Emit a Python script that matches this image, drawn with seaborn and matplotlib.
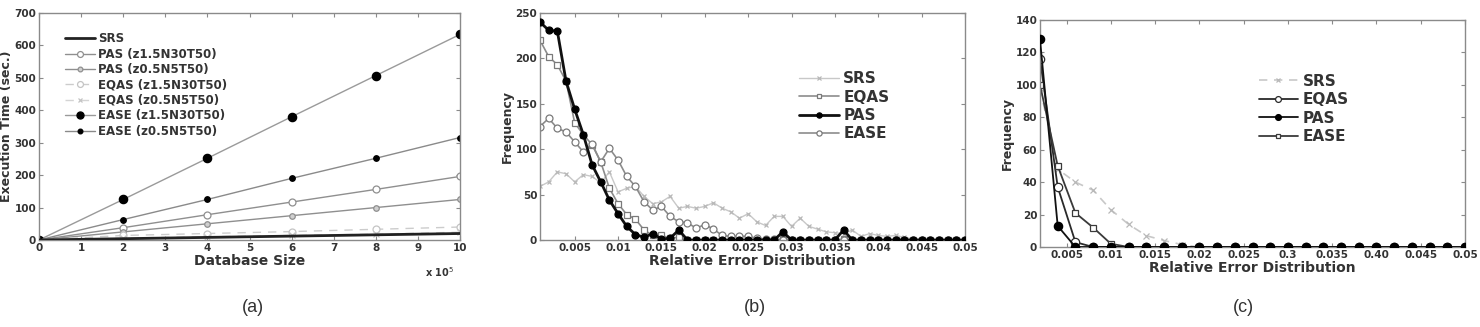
import numpy as np
import pandas as pd
import matplotlib
matplotlib.use("Agg")
import matplotlib.pyplot as plt
import seaborn as sns

# ---------------- data ----------------
# (a) execution time vs database size (x 10^5)
db_size = [0, 2, 4, 6, 8, 10]
srs_a = [0, 4, 8, 12, 16, 20]
pas_z15 = [0, 38, 78, 117, 156, 196]
pas_z05 = [0, 25, 50, 75, 100, 125]
eqas_z15 = [0, 14, 20, 26, 33, 40]
eqas_z05 = [0, 6, 10, 14, 18, 24]
ease_z15 = [0, 125, 252, 380, 507, 634]
ease_z05 = [0, 63, 125, 190, 252, 316]

# (b) relative error distribution, bins 0.001 .. 0.050
err_b = [round(0.001 * i, 3) for i in range(1, 51)]
srs_b = [59, 64, 75, 73, 64, 72, 70, 63, 75, 53,
         57, 59, 48, 40, 42, 48, 35, 37, 35, 37,
         41, 35, 31, 24, 29, 20, 16, 26, 26, 15,
         24, 15, 12, 9, 8, 7, 11, 4, 7, 5,
         4, 5, 3, 1, 1, 0, 0, 0, 0, 0]
eqas_b = [220, 202, 193, 175, 129, 116, 105, 86, 57, 40,
          28, 23, 11, 5, 5, 2, 3, 0, 0, 0,
          0, 0, 0, 0, 0, 0, 0, 0, 1, 0,
          0, 0, 0, 0, 0, 1, 0, 0, 0, 0,
          0, 0, 0, 0, 0, 0, 0, 0, 0, 0]
pas_b = [240, 231, 230, 175, 144, 116, 83, 64, 44, 29,
         15, 6, 3, 7, 1, 2, 11, 0, 0, 0,
         0, 0, 0, 0, 0, 0, 0, 0, 9, 0,
         0, 0, 0, 0, 0, 11, 0, 0, 0, 0,
         0, 0, 0, 0, 0, 0, 0, 0, 0, 0]
ease_b = [125, 134, 123, 119, 108, 97, 106, 86, 101, 88,
          70, 59, 42, 33, 37, 26, 20, 19, 13, 17,
          12, 5, 4, 4, 4, 2, 1, 1, 0, 0,
          0, 0, 0, 0, 0, 0, 0, 0, 0, 0,
          0, 0, 0, 0, 0, 0, 0, 0, 0, 0]

# (c) relative error distribution, bins 0.002 .. 0.050
err_c = [round(0.002 * i, 3) for i in range(1, 26)]
srs_c = [98, 48, 40, 35, 23, 14, 7, 4, 1.5] + [0] * 16
eqas_c = [116, 37, 3] + [0] * 22
pas_c = [128, 13] + [0] * 23
ease_c = [100, 50, 21, 12, 2] + [0] * 20

ticks_bc = [0.005, 0.01, 0.015, 0.02, 0.025, 0.03, 0.035, 0.04, 0.045, 0.05]
ticklabels_b = ["0.005", "0.01", "0.015", "0.02", "0.025", "0.03", "0.035", "0.04", "0.045", "0.05"]
ticklabels_c = ["0.005", "0.01", "0.015", "0.02", "0.025", "0.3", "0.035", "0.40", "0.045", "0.05"]

# ---------------- style ----------------
sns.set_style("ticks")
plt.rcParams['font.family'] = ['DejaVu Sans']
TXT = "#333333"
SPINE = "#8a8a8a"

fig = plt.figure(figsize=(14.8, 3.27), dpi=100)
W, H = 1480, 327


def add_ax(l, r, t, b):
    return fig.add_axes([l / W, 1 - b / H, (r - l) / W, (b - t) / H])


axA = add_ax(39, 460, 13, 240)
axB = add_ax(540, 965, 13, 240)
axC = add_ax(1040, 1465, 20, 247)


def style(ax):
    for s in ax.spines.values():
        s.set_visible(True)
        s.set_color(SPINE)
        s.set_linewidth(1.0)
    ax.tick_params(direction="in", top=True, right=True, length=3, width=0.8,
                   color=SPINE, labelsize=7.5, labelcolor=TXT, pad=2)
    for lab in ax.get_xticklabels() + ax.get_yticklabels():
        lab.set_fontweight("bold")


def line(ax, x, y, label, color, marker=None, ms=4, mfc=None, mec=None, lw=1.0, ls="-", zorder=2):
    kw = dict(x=x, y=y, ax=ax, color=color, linewidth=lw, linestyle=ls, label=label,
              estimator=None, sort=False, zorder=zorder)
    if marker:
        kw.update(marker=marker, markersize=ms,
                  markerfacecolor=(mfc if mfc is not None else color),
                  markeredgecolor=(mec if mec is not None else color),
                  markeredgewidth=0.9)
    sns.lineplot(**kw)


# ---------------- (a) ----------------
line(axA, db_size, srs_a, "SRS", "#222222", lw=2.0, zorder=5)
line(axA, db_size, pas_z15, "PAS (z1.5N30T50)", "#8f8f8f", "o", 5, "white", "#8f8f8f")
line(axA, db_size, pas_z05, "PAS (z0.5N5T50)", "#8f8f8f", "o", 4, "#cfcfcf", "#8f8f8f")
line(axA, db_size, eqas_z15, "EQAS (z1.5N30T50)", "#cccccc", "o", 5, "white", "#c4c4c4", ls=(0, (6, 5)))
line(axA, db_size, eqas_z05, "EQAS (z0.5N5T50)", "#d4d4d4", "x", 4, None, "#c4c4c4", ls=(0, (6, 5)))
line(axA, db_size, ease_z15, "EASE (z1.5N30T50)", "#9a9a9a", "o", 6, "black", "black")
line(axA, db_size, ease_z05, "EASE (z0.5N5T50)", "#8a8a8a", "o", 4, "black", "black")
axA.set_xlim(0, 10)
axA.set_ylim(0, 700)
axA.set_xticks(range(0, 11))
axA.set_yticks(range(0, 701, 100))
style(axA)
axA.set_xlabel("Database Size", fontsize=10, fontweight="bold", color=TXT, labelpad=1)
axA.set_ylabel("Execution Time (sec.)", fontsize=9, fontweight="bold", color=TXT, labelpad=1)
axA.text(0.985, -0.11, r"x 10$^5$", transform=axA.transAxes, ha="right", va="top",
         fontsize=7, fontweight="bold", color=TXT)
legA = axA.legend(loc="upper left", bbox_to_anchor=(0.05, 0.935), frameon=False,
                  prop={"weight": "bold", "size": 8.5}, handlelength=2.6, handletextpad=0.2,
                  labelspacing=0.2, borderaxespad=0, markerscale=0.85)
for t in legA.get_texts():
    t.set_color(TXT)

# ---------------- (b) ----------------
line(axB, err_b, srs_b, "SRS", "#c8c8c8", "x", 3.5, None, "#b8b8b8", lw=1.0)
line(axB, err_b, eqas_b, "EQAS", "#8c8c8c", "s", 4.5, "white", "#7a7a7a", lw=1.2)
line(axB, err_b, pas_b, "PAS", "#111111", "o", 5, "black", "black", lw=2.0, zorder=4)
line(axB, err_b, ease_b, "EASE", "#8c8c8c", "o", 5, "white", "#7a7a7a", lw=1.2)
axB.set_xlim(0.001, 0.05)
axB.set_ylim(0, 250)
axB.set_xticks(ticks_bc, labels=ticklabels_b)
axB.set_yticks(range(0, 251, 50))
style(axB)
axB.set_xlabel("Relative Error Distribution", fontsize=10, fontweight="bold", color=TXT, labelpad=1)
axB.set_ylabel("Frequency", fontsize=9, fontweight="bold", color=TXT, labelpad=1)
legB = axB.legend(loc="upper left", bbox_to_anchor=(0.595, 0.77), frameon=False,
                  prop={"weight": "bold", "size": 11}, handlelength=2.6, handletextpad=0.3,
                  labelspacing=0.22, borderaxespad=0, markerscale=0.75)
for t in legB.get_texts():
    t.set_color(TXT)

# ---------------- (c) ----------------
line(axC, err_c, srs_c, "SRS", "#c8c8c8", "x", 4, None, "#b8b8b8", lw=1.2, ls=(0, (5, 4)))
line(axC, err_c, eqas_c, "EQAS", "#2a2a2a", "o", 6, "white", "#2a2a2a", lw=1.3)
line(axC, err_c, pas_c, "PAS", "#111111", "o", 6, "black", "black", lw=1.3, zorder=4)
line(axC, err_c, ease_c, "EASE", "#3a3a3a", "s", 5, "white", "#3a3a3a", lw=1.3)
axC.set_xlim(0.002, 0.05)
axC.set_ylim(0, 140)
axC.set_xticks(ticks_bc, labels=ticklabels_c)
axC.set_yticks(range(0, 141, 20))
style(axC)
axC.set_xlabel("Relative Error Distribution", fontsize=10, fontweight="bold", color=TXT, labelpad=1)
axC.set_ylabel("Frequency", fontsize=9, fontweight="bold", color=TXT, labelpad=1)
legC = axC.legend(loc="upper left", bbox_to_anchor=(0.5, 0.79), frameon=False,
                  prop={"weight": "bold", "size": 11}, handlelength=2.6, handletextpad=0.3,
                  labelspacing=0.22, borderaxespad=0, markerscale=0.7)
for t in legC.get_texts():
    t.set_color(TXT)

# panel captions
for xpix, cap in [(253, "(a)"), (755, "(b)"), (1243, "(c)")]:
    fig.text(xpix / W, 1 - 308 / H, cap, ha="center", va="center", fontsize=13,
             family="Liberation Sans", color="#333333")

fig.savefig("out.png", dpi=100, facecolor="white")
